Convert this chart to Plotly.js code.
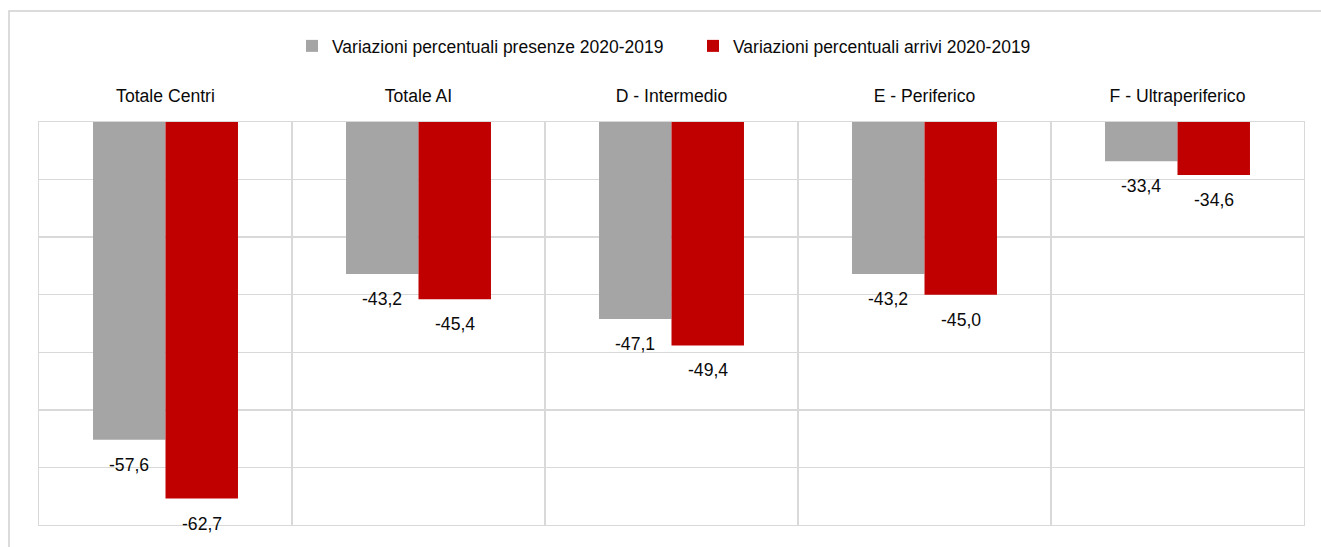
<!DOCTYPE html>
<html>
<head>
<meta charset="utf-8">
<script src="https://cdn.plot.ly/plotly-3.0.1.min.js"></script>
<style>
html,body{margin:0;padding:0;background:#fff;}
#chart{width:1321px;height:547px;}
</style>
</head>
<body>
<div id="chart"></div>
<script>
const categories = ["Totale Centri", "Totale AI", "D - Intermedio", "E - Periferico", "F - Ultraperiferico"];
const presenze = [-57.6, -43.2, -47.1, -43.2, -33.4];
const arrivi = [-62.7, -45.4, -49.4, -45.0, -34.6];
const seriesNames = ["Variazioni percentuali presenze 2020-2019", "Variazioni percentuali arrivi 2020-2019"];
const yTicks = [-65, -60, -55, -50, -45, -40, -35, -30];

const FONT = "Liberation Sans, Arial, sans-serif";
const TXT = '#0a0a0a';
const BARGAP = 0.427;
const half = (1 - BARGAP) / 2;

function fmt(v){ return v.toFixed(1).replace('.', ','); }

const traces = [
  {type:'bar', name:seriesNames[0], x:categories, y:presenze, marker:{color:'#a5a5a5'}, hoverinfo:'skip'},
  {type:'bar', name:seriesNames[1], x:categories, y:arrivi, marker:{color:'#c00000'}, hoverinfo:'skip'}
];

const annotations = [];
[presenze, arrivi].forEach((vals, s) => {
  vals.forEach((v, i) => {
    annotations.push({
      x: i + (s === 0 ? -half/2 : half/2), y: v, xref:'x', yref:'y',
      text: fmt(v), showarrow:false, yshift:-25,
      font:{family:FONT, size:17.6, color:TXT}
    });
  });
});

const layout = {
  width:1321, height:547,
  margin:{l:39, r:17, t:122, b:22},
  paper_bgcolor:'#ffffff', plot_bgcolor:'#ffffff',
  font:{family:FONT, size:17.6, color:TXT},
  barmode:'group', bargap:BARGAP, bargroupgap:0,
  showlegend:true,
  legend:{orientation:'h', x:(292-39)/1265, xanchor:'left', y:(525-46)/403, yanchor:'middle',
          entrywidth:356, font:{family:FONT, size:17.5, color:TXT}, itemwidth:30, traceorder:'normal'},
  xaxis:{type:'category', side:'top', tickson:'boundaries', showgrid:true, gridcolor:'#d9d9d9', gridwidth:1.3,
         ticks:'', ticklabelstandoff:12, tickfont:{family:FONT, size:17.6, color:TXT},
         showline:true, linecolor:'#d9d9d9', linewidth:1.3, mirror:true, zeroline:false, fixedrange:true},
  yaxis:{range:[-65, -30], tickvals:yTicks, showticklabels:false, showgrid:true, gridcolor:'#d9d9d9', gridwidth:1.3,
         ticks:'', showline:true, linecolor:'#d9d9d9', linewidth:1.3, mirror:true, zeroline:false, fixedrange:true},
  annotations: annotations,
  shapes:[{type:'rect', xref:'paper', yref:'paper', x0:-30/1265, x1:1.05, y0:-0.1, y1:(525-11)/403,
           line:{color:'#d0d0d0', width:1.5}, fillcolor:'rgba(0,0,0,0)', layer:'below'}]
};

Plotly.newPlot('chart', traces, layout, {displayModeBar:false, staticPlot:true});
</script>
</body>
</html>
